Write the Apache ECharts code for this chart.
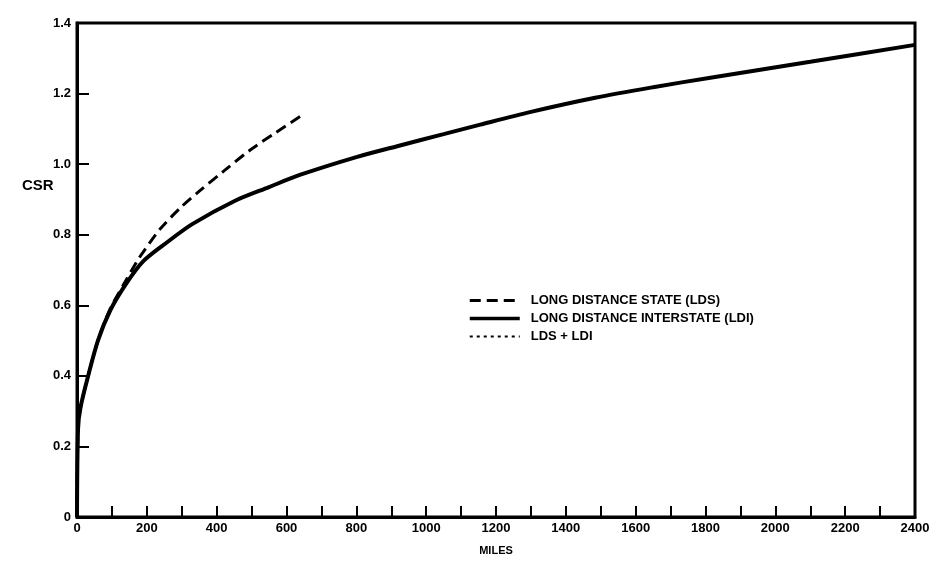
<!DOCTYPE html>
<html>
<head>
<meta charset="utf-8">
<script src="https://cdn.jsdelivr.net/npm/echarts@6/dist/echarts.min.js"></script>
<style>html,body{margin:0;padding:0;background:#fff;}#c{width:941px;height:561px;}</style>
</head>
<body>
<div id="c"></div>
<script>
const ldiMiles = [0, 3, 10, 32, 60, 95, 140, 190, 260, 330, 450, 550, 640, 800, 925, 1050, 1155, 1300, 1484, 1650, 1814, 2100, 2400];
const ldiCSR   = [0, 0.25, 0.31, 0.40, 0.50, 0.585, 0.66, 0.725, 0.78, 0.83, 0.895, 0.935, 0.97, 1.02, 1.053, 1.085, 1.112, 1.148, 1.188, 1.218, 1.245, 1.29, 1.338];
const ldsMiles = [0, 3, 10, 32, 60, 95, 140, 172, 189, 238, 300, 352, 420, 496, 570, 639];
const ldsCSR   = [0, 0.25, 0.31, 0.40, 0.50, 0.59, 0.67, 0.725, 0.75, 0.816, 0.88, 0.925, 0.98, 1.04, 1.09, 1.135];
const sumMiles = [];
const sumCSR = [];
const seriesNames = ['LONG DISTANCE STATE (LDS)', 'LONG DISTANCE INTERSTATE (LDI)', 'LDS + LDI'];
const xTicks = [0, 200, 400, 600, 800, 1000, 1200, 1400, 1600, 1800, 2000, 2200, 2400];
const yTicks = [0, 0.2, 0.4, 0.6, 0.8, 1.0, 1.2, 1.4];

const pair = (xs, ys) => xs.map((x, i) => [x, ys[i]]);
const FONT = "'Liberation Sans', 'DejaVu Sans', sans-serif";

const chart = echarts.init(document.getElementById('c'));
chart.setOption({
  animation: false,
  backgroundColor: '#fff',
  grid: { left: 77, right: 26, top: 23, bottom: 39, show: true, borderColor: '#000', borderWidth: 3 },
  graphic: [
    { type: 'text', left: 22, top: 178, style: { text: 'CSR', fontFamily: FONT, fontWeight: 'bold', fontSize: 15, fill: '#000' } }
  ],
  xAxis: {
    type: 'value', min: 0, max: 2400, interval: 200,
    name: 'MILES', nameLocation: 'middle', nameGap: 28,
    nameTextStyle: { fontFamily: FONT, fontWeight: 'bold', fontSize: 11, color: '#000' },
    axisLine: { lineStyle: { color: '#000', width: 3 } },
    axisTick: { inside: true, length: 11, lineStyle: { color: '#000', width: 2 } },
    minorTick: { show: true, splitNumber: 2, length: 11, lineStyle: { color: '#000', width: 2 } },
    splitLine: { show: false },
    axisLabel: {
      margin: 5, fontFamily: FONT, fontWeight: 'bold', fontSize: 13, color: '#000',
      formatter: v => xTicks.includes(v) ? String(v) : ''
    }
  },
  yAxis: {
    type: 'value', min: 0, max: 1.4, interval: 0.2,
    axisLine: { lineStyle: { color: '#000', width: 3 } },
    axisTick: { inside: true, length: 12, lineStyle: { color: '#000', width: 2 } },
    splitLine: { show: false },
    axisLabel: {
      margin: 6, fontFamily: FONT, fontWeight: 'bold', fontSize: 13, color: '#000',
      formatter: v => { const t = yTicks.find(k => Math.abs(k - v) < 1e-6); return t === 0 ? '0' : t.toFixed(1); }
    }
  },
  legend: {
    orient: 'vertical', left: 463, top: 289, itemGap: 5,
    itemWidth: 50, itemHeight: 12,
    itemStyle: { opacity: 0 },
    textStyle: { fontFamily: FONT, fontWeight: 'bold', fontSize: 13, color: '#000', padding: [0, 0, 0, 6] },
    data: [
      { name: seriesNames[0], lineStyle: { width: 3 } },
      { name: seriesNames[1], lineStyle: { width: 3.5 } },
      { name: seriesNames[2], lineStyle: { width: 2 } }
    ]
  },
  series: [
    { name: seriesNames[0], type: 'line', data: pair(ldsMiles, ldsCSR), smooth: 0.3, showSymbol: false, symbol: 'none',
      lineStyle: { color: '#000', width: 3, type: [11, 6] }, itemStyle: { color: '#000' } },
    { name: seriesNames[1], type: 'line', data: pair(ldiMiles, ldiCSR), smooth: 0.3, showSymbol: false, symbol: 'none',
      lineStyle: { color: '#000', width: 4 }, itemStyle: { color: '#000' } },
    { name: seriesNames[2], type: 'line', data: pair(sumMiles, sumCSR), smooth: 0.3, showSymbol: false, symbol: 'none',
      lineStyle: { color: '#000', width: 2, type: [3, 4] }, itemStyle: { color: '#000' } }
  ]
});
</script>
</body>
</html>
